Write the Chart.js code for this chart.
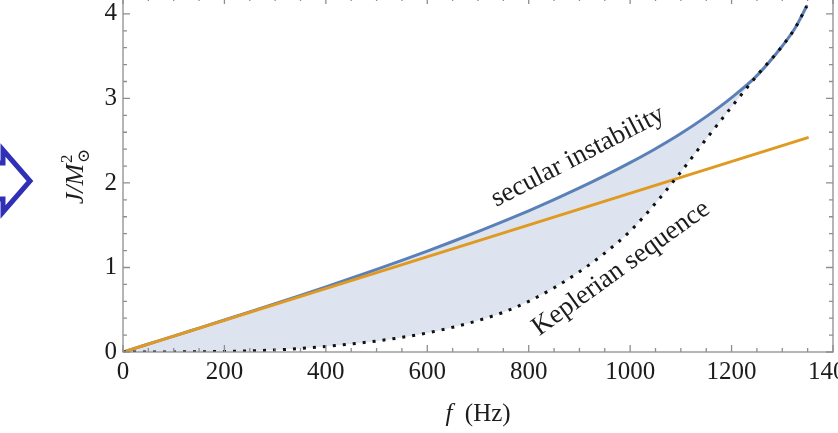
<!DOCTYPE html>
<html>
<head>
<meta charset="utf-8">
<script src="https://cdn.jsdelivr.net/npm/chart.js@4/dist/chart.umd.min.js"></script>
<style>
  html, body { margin: 0; padding: 0; width: 838px; height: 433px; overflow: hidden; background: #fff; }
  #wrap { position: absolute; left: 0; top: -10px; width: 880px; height: 443px; }
  #arrow { position: absolute; left: 0; top: 0; }
</style>
</head>
<body>
<div id="wrap"><canvas id="c" width="880" height="443"></canvas></div>
<svg id="arrow" width="40" height="433" viewBox="0 0 40 433">
  <polyline points="-6,163 3,163 3,150 30,181 3,212 3,199 -6,199" fill="none" stroke="#3030b6" stroke-width="5" stroke-linejoin="miter"/>
</svg>
<script>
// ---- data ----
const freqHz   = [0, 50, 100, 150, 200, 250, 300, 350, 400, 450, 500, 550, 600, 650, 700, 750, 800, 850, 900, 950, 1000, 1050, 1100, 1150, 1200, 1250, 1300, 1325, 1348];
const secularJ = [0, 0.094, 0.188, 0.283, 0.378, 0.474, 0.571, 0.67, 0.771, 0.873, 0.977, 1.084, 1.194, 1.307, 1.424, 1.545, 1.671, 1.803, 1.941, 2.086, 2.24, 2.405, 2.585, 2.785, 3.01, 3.27, 3.62, 3.83, 4.09];
const keplerJ  = [0, 0, 0.001, 0.003, 0.007, 0.013, 0.024, 0.042, 0.066, 0.095, 0.13, 0.173, 0.226, 0.292, 0.372, 0.47, 0.60, 0.76, 0.95, 1.17, 1.43, 1.76, 2.13, 2.52, 2.90, 3.27, 3.62, 3.83, 4.09];
const linearFreqHz = [0, 1352];
const linearJ      = [0, 2.54];
const xTickValues = [0, 200, 400, 600, 800, 1000, 1200, 1400];
const yTickValues = [0, 1, 2, 3, 4];
const curveLabels = ["secular instability", "Keplerian sequence"];

const toPts = (xs, ys) => xs.map((x, i) => ({ x: x, y: ys[i] }));

const SERIF = '"Liberation Serif", "DejaVu Serif", serif';
const FRAME = '#8e8e8e';
const TEXT = '#1c1c1c';

const framePlugin = {
  id: 'frame',
  afterDatasetsDraw(chart) {
    const { ctx, chartArea: a, scales: { x, y } } = chart;
    ctx.save();
    ctx.strokeStyle = FRAME;
    ctx.lineWidth = 1.3;
    ctx.strokeRect(a.left, a.top, a.right - a.left, a.bottom - a.top);
    ctx.beginPath();
    for (let v = 0; v <= 1400; v += 50) {
      const px = x.getPixelForValue(v);
      const len = (v % 200 === 0) ? 7 : 4;
      ctx.moveTo(px, a.bottom); ctx.lineTo(px, a.bottom - len);
      ctx.moveTo(px, a.top); ctx.lineTo(px, a.top + len);
    }
    for (let k = 0; k <= 21; k++) {
      const v = k * 0.2;
      const py = y.getPixelForValue(v);
      const len = (k % 5 === 0) ? 7 : 4;
      ctx.moveTo(a.left, py); ctx.lineTo(a.left + len, py);
      ctx.moveTo(a.right, py); ctx.lineTo(a.right - len, py);
    }
    ctx.stroke();
    ctx.restore();
  },
  afterDraw(chart) {
    const { ctx, scales: { x, y } } = chart;
    ctx.save();
    ctx.fillStyle = TEXT;
    // curve labels
    ctx.font = '27px ' + SERIF;
    ctx.textAlign = 'center';
    ctx.textBaseline = 'middle';
    ctx.save();
    ctx.translate(x.getPixelForValue(897), y.getPixelForValue(2.31));
    ctx.rotate(-27.4 * Math.PI / 180);
    ctx.fillText(curveLabels[0], 0, 0);
    ctx.restore();
    ctx.save();
    ctx.translate(x.getPixelForValue(982), y.getPixelForValue(0.99));
    ctx.rotate(-35.9 * Math.PI / 180);
    ctx.fillText(curveLabels[1], 0, 0);
    ctx.restore();

    // x axis title: f (Hz)
    ctx.textBaseline = 'alphabetic';
    ctx.textAlign = 'left';
    const fI = 'italic 25px ' + SERIF, fR = '25px ' + SERIF;
    ctx.font = fI; const w1 = ctx.measureText('f').width;
    ctx.font = fR; const w2 = ctx.measureText('  (Hz)').width;
    let sx = 478 - (w1 + w2) / 2, by = 431;
    ctx.font = fI; ctx.fillText('f', sx, by);
    ctx.font = fR; ctx.fillText('  (Hz)', sx + w1, by);

    // y axis title: J/M_sun^2
    ctx.save();
    ctx.translate(74, 187);
    ctx.rotate(-Math.PI / 2);
    const yI = 'italic 26px ' + SERIF, ySmall = '17px ' + SERIF;
    ctx.font = yI; const wa = ctx.measureText('J/M').width;
    ctx.font = ySmall; const wb = Math.max(ctx.measureText('2').width, ctx.measureText('\u2299').width);
    const x0 = -(wa + wb) / 2, base = 9;
    ctx.font = yI; ctx.fillText('J/M', x0, base);
    ctx.font = ySmall;
    ctx.fillText('2', x0 + wa + 1, base - 11);
    ctx.fillText('\u2299', x0 + wa + 1, base + 6);
    ctx.restore();
    ctx.restore();
  }
};

new Chart(document.getElementById('c'), {
  type: 'line',
  data: {
    datasets: [
      { label: 'Keplerian sequence', data: toPts(freqHz, keplerJ), borderColor: '#111', borderWidth: 3,
        borderDash: [3, 7], borderCapStyle: 'butt', pointRadius: 0, cubicInterpolationMode: 'monotone', fill: false },
      { label: 'linear', data: toPts(linearFreqHz, linearJ), borderColor: '#e09a22', borderWidth: 3,
        pointRadius: 0, fill: false },
      { label: 'secular instability', data: toPts(freqHz, secularJ), borderColor: '#5b80b8', borderWidth: 3,
        borderCapStyle: 'round', pointRadius: 0, cubicInterpolationMode: 'monotone', fill: { target: 0 }, backgroundColor: '#dde4ef' }
    ]
  },
  options: {
    responsive: false,
    animation: false,
    devicePixelRatio: 1,
    layout: { padding: { top: 7, right: 47, left: 0, bottom: 0 } },
    plugins: { legend: { display: false }, tooltip: { enabled: false } },
    scales: {
      x: {
        type: 'linear', min: 0, max: 1400,
        afterBuildTicks: s => { s.ticks = xTickValues.map(v => ({ value: v })); },
        ticks: { font: { family: SERIF, size: 25 }, color: TEXT, padding: 5, maxRotation: 0, autoSkip: false,
                 includeBounds: false, callback: v => String(v) },
        grid: { display: false, drawTicks: false },
        border: { display: false },
        afterFit: s => { s.height = 81; s.paddingLeft = 0; s.paddingRight = 0; }
      },
      y: {
        type: 'linear', min: 0, max: 4.2,
        afterBuildTicks: s => { s.ticks = yTickValues.map(v => ({ value: v })); },
        ticks: { font: { family: SERIF, size: 25 }, color: TEXT, padding: 6, includeBounds: false,
                 callback: v => String(v) },
        grid: { display: false, drawTicks: false },
        border: { display: false },
        afterFit: s => { s.width = 123; s.paddingTop = 0; s.paddingBottom = 0; }
      }
    }
  },
  plugins: [framePlugin]
});
</script>
</body>
</html>
